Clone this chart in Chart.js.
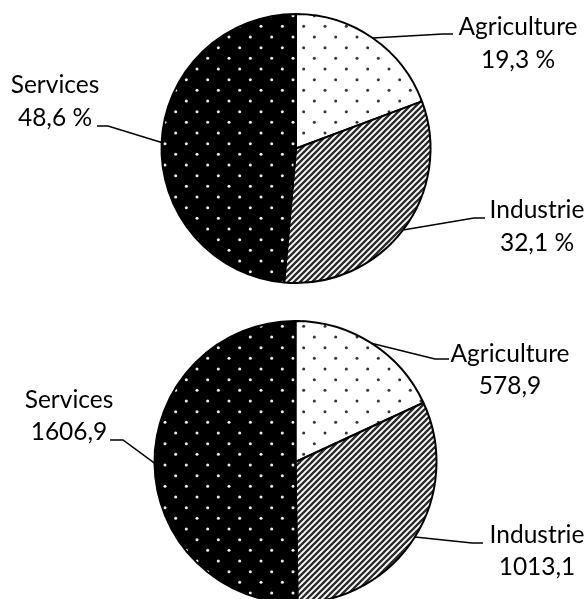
<!DOCTYPE html>
<html>
<head>
<meta charset="utf-8">
<script src="https://cdn.jsdelivr.net/npm/chart.js@4"></script>
<style>
  html, body { margin: 0; padding: 0; background: #fff; overflow: hidden; }
  .box { position: absolute; left: 0; width: 587px; }
  #top { top: 0; height: 300px; }
  #bottom { top: 300px; height: 320px; }
</style>
</head>
<body>
<div class="box" id="top"><canvas id="share-chart"></canvas></div>
<div class="box" id="bottom"><canvas id="amount-chart"></canvas></div>
<script>
// Data
var categories = ["Agriculture", "Industrie", "Services"];
var shareValues = [19.3, 32.1, 48.6];
var amountValues = [578.9, 1013.1, 1606.9];

function frNumber(v) {
    return v.toFixed(1).replace(".", ",");
}

// Fill patterns
function dotPattern(bg, dot, r) {
    var c = document.createElement("canvas");
    c.width = 64; c.height = 64;
    var g = c.getContext("2d");
    g.fillStyle = bg;
    g.fillRect(0, 0, 64, 64);
    g.fillStyle = dot;
    var step = 64 / 3;
    for (var i = -1; i <= 3; i++) {
        for (var j = -1; j <= 3; j++) {
            g.beginPath();
            g.arc(i * step + 5, j * step + 5, r, 0, Math.PI * 2);
            g.fill();
            g.beginPath();
            g.arc(i * step + 5 + step / 2, j * step + 5 + step / 2, r, 0, Math.PI * 2);
            g.fill();
        }
    }
    return g.createPattern(c, "repeat");
}

function stripePattern() {
    var c = document.createElement("canvas");
    c.width = 6; c.height = 6;
    var g = c.getContext("2d");
    g.fillStyle = "#fff";
    g.fillRect(0, 0, 6, 6);
    g.strokeStyle = "#2a2a2a";
    g.lineWidth = 2.3;
    g.beginPath();
    g.moveTo(-1, 1); g.lineTo(1, -1);
    g.moveTo(0, 6); g.lineTo(6, 0);
    g.moveTo(5, 7); g.lineTo(7, 5);
    g.stroke();
    return g.createPattern(c, "repeat");
}

var fills = [
    dotPattern("#fff", "#333", 1.5),
    stripePattern(),
    dotPattern("#000", "#eee", 1.5)
];

// Label + leader line plugin
var calloutPlugin = {
    id: "callouts",
    afterDatasetsDraw: function (chart) {
        var opts = chart.options.plugins.callouts;
        var ctx = chart.ctx;
        var arcs = chart.getDatasetMeta(0).data;
        ctx.save();
        ctx.strokeStyle = "#000";
        ctx.lineWidth = 1.5;
        ctx.fillStyle = "#000";
        ctx.font = "24.5px Lato";
        ctx.textAlign = "center";
        ctx.textBaseline = "alphabetic";
        arcs.forEach(function (arc, i) {
            var p = arc.getProps(["x", "y", "startAngle", "endAngle", "outerRadius"]);
            var mid = (p.startAngle + p.endAngle) / 2;
            var sx = p.x + Math.cos(mid) * p.outerRadius;
            var sy = p.y + Math.sin(mid) * p.outerRadius;
            var lb = opts.layout[i];
            ctx.beginPath();
            ctx.moveTo(sx, sy);
            ctx.lineTo(lb.elbow[0], lb.elbow[1]);
            ctx.lineTo(lb.end[0], lb.end[1]);
            ctx.stroke();
            ctx.fillText(categories[i], lb.tx, lb.ty);
            ctx.fillText(opts.texts[i], lb.tx, lb.ty + opts.lineGap);
        });
        ctx.restore();
    }
};

function makePie(id, values, texts, radius, padding, layout, lineGap) {
    return new Chart(document.getElementById(id), {
        type: "pie",
        data: {
            labels: categories,
            datasets: [{
                data: values,
                backgroundColor: fills,
                borderColor: "#000",
                borderWidth: 2
            }]
        },
        options: {
            responsive: true,
            maintainAspectRatio: false,
            animation: false,
            radius: radius,
            layout: { padding: padding },
            plugins: {
                legend: { display: false },
                tooltip: { enabled: false },
                callouts: { texts: texts, layout: layout, lineGap: lineGap }
            }
        },
        plugins: [calloutPlugin]
    });
}

makePie("share-chart", shareValues,
    shareValues.map(function (v) { return frNumber(v) + " %"; }),
    134.5,
    { left: 161, right: 156, top: 13.5, bottom: 16.5 },
    [
        { tx: 518, ty: 35, elbow: [443, 34], end: [453, 34] },
        { tx: 537, ty: 218, elbow: [474, 218], end: [485, 218] },
        { tx: 55, ty: 93, elbow: [108, 126], end: [97, 126] }
    ], 33);

makePie("amount-chart", amountValues,
    amountValues.map(frNumber),
    141,
    { left: 154, right: 150, top: 20.5, bottom: 16.5 },
    [
        { tx: 510, ty: 62, elbow: [435, 59], end: [449, 59] },
        { tx: 537, ty: 243, elbow: [472, 243], end: [483, 243] },
        { tx: 69, ty: 108, elbow: [123, 140], end: [110, 140] }
    ], 32);
</script>
</body>
</html>
